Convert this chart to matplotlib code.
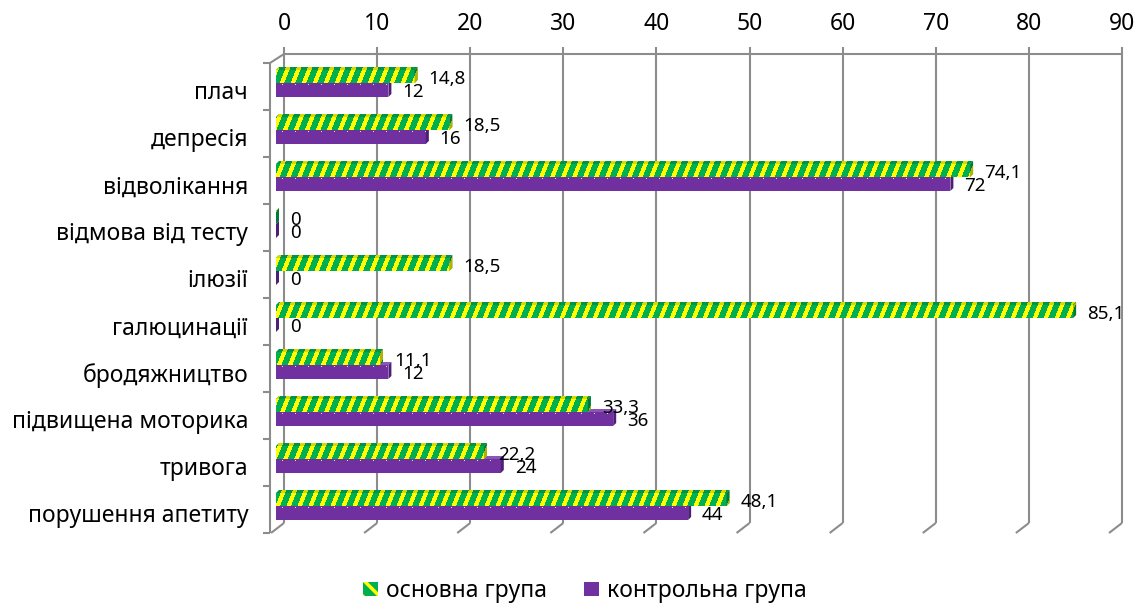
import numpy as np
import matplotlib
matplotlib.use("Agg")
import matplotlib.pyplot as plt
from matplotlib.patches import Polygon, PathPatch, Rectangle
from matplotlib.path import Path
from matplotlib.lines import Line2D
from matplotlib.transforms import ScaledTranslation

# ---- data -------------------------------------------------------------
categories = ["плач", "депресія", "відволікання", "відмова від тесту", "ілюзії",
              "галюцинації", "бродяжництво", "підвищена моторика", "тривога",
              "порушення апетиту"]
main_group = [14.8, 18.5, 74.1, 0, 18.5, 85.1, 11.1, 33.3, 22.2, 48.1]
control_group = [12, 16, 72, 0, 0, 0, 12, 36, 24, 44]
series_names = ["основна група", "контрольна група"]
x_ticks = [0, 10, 20, 30, 40, 50, 60, 70, 80, 90]

# ---- style ------------------------------------------------------------
FONT = ["Noto Sans", "DejaVu Sans"]
plt.rcParams["font.family"] = FONT
GREEN = "#00B050"
YELLOW = "#FFFF00"
PURPLE = "#7030A0"
GRID = "#8C8C8C"

W, H = 1140, 603
fig = plt.figure(figsize=(W / 100, H / 100), dpi=100)
fig.patch.set_facecolor("white")


def rect_px(x0, x1, ytop, ybot):
    return [x0 / W, 1 - ybot / H, (x1 - x0) / W, (ybot - ytop) / H]


def fig_line(xs, ys, **kw):
    fig.add_artist(Line2D([x / W for x in xs], [1 - y / H for y in ys],
                          transform=fig.transFigure, color=GRID, lw=1.5,
                          solid_capstyle="butt", **kw))


# ---- back wall: value grid and top axis ---------------------------------
BX0, BX1, BYT, BYB = 284, 1122, 54, 523
ax_b = fig.add_axes(rect_px(BX0, BX1, BYT, BYB))
ax_b.set_xlim(x_ticks[0], x_ticks[-1])
ax_b.set_ylim(0, 1)
for s in ax_b.spines.values():
    s.set_visible(False)
ax_b.set_yticks([])
ax_b.xaxis.tick_top()
ax_b.set_xticks(x_ticks)
ax_b.set_xticklabels([str(t) for t in x_ticks], fontsize=16.5)
ax_b.tick_params(axis="x", length=5, width=1.5, color=GRID, pad=8)
ax_b.vlines(x_ticks, 0, 1, color=GRID, lw=1.5, clip_on=False)
ax_b.hlines(1, x_ticks[0], x_ticks[-1], color=GRID, lw=1.5, clip_on=False)

# floor edges running towards the viewer
for t in x_ticks:
    xp = BX0 + (t - x_ticks[0]) / (x_ticks[-1] - x_ticks[0]) * (BX1 - BX0)
    fig_line([xp, xp - 13], [BYB, BYB + 10])

# ---- front plane with the bars -----------------------------------------
FX0, FX1, FYT, FYB = 276, 1119, 63, 533
ax_f = fig.add_axes(rect_px(FX0, FX1, FYT, FYB), zorder=2)
ax_f.patch.set_alpha(0)
for s in ax_f.spines.values():
    s.set_visible(False)

n = len(categories)
y = np.arange(n)
ppx = (FX1 - FX0) / 90.0          # pixels per value unit
ppy = (FYB - FYT) / n             # pixels per category band
dx = 3 / ppx                      # bar depth, horizontal
dy = 3 / ppy                      # bar depth, vertical

g_top, g_bot = -0.351, -0.0745
p_top, p_bot = -0.0745, 0.223

# control group (behind in drawing order)
pbars = ax_f.barh(y + (p_top + p_bot) / 2, control_group, height=p_bot - p_top,
                  color=PURPLE, edgecolor="none", zorder=2)
for yi, v in zip(y, control_group):
    t, b = yi + p_top, yi + p_bot
    ax_f.add_patch(Polygon([(0, t), (v, t), (v + dx, t - dy), (dx, t - dy)],
                           closed=True, fc="#8A55B5", ec="none", zorder=2))
    ax_f.add_patch(Polygon([(v, t), (v + dx, t - dy), (v + dx, b - dy), (v, b)],
                           closed=True, fc="#4F1F78", ec="none", zorder=2))

# main group
gbars = ax_f.barh(y + (g_top + g_bot) / 2, main_group, height=g_bot - g_top,
                  color=GREEN, edgecolor="none", zorder=3)
top_faces, side_faces = [], []
for yi, v in zip(y, main_group):
    t, b = yi + g_top, yi + g_bot
    tp = Polygon([(0, t), (v, t), (v + dx, t - dy), (dx, t - dy)],
                 closed=True, fc=GREEN, ec="none", zorder=3)
    sp = Polygon([(v, t), (v + dx, t - dy), (v + dx, b - dy), (v, b)],
                 closed=True, fc=GREEN, ec="none", zorder=3)
    ax_f.add_patch(tp)
    ax_f.add_patch(sp)
    top_faces.append(tp)
    side_faces.append(sp)

# diagonal yellow stripes over the green bars
rows, cols = FYB - FYT, FX1 - FX0
rr, cc = np.mgrid[0:rows, 0:cols]
stripe = ((cc + 0.4 * rr) % 11) < 4.5
img = np.zeros((rows, cols, 4))
img[stripe] = matplotlib.colors.to_rgba(YELLOW)
im = ax_f.imshow(img, extent=(0, 90, n - 0.5, -0.5), origin="upper",
                 aspect="auto", interpolation="nearest", zorder=3.5)
paths = [p.get_path().transformed(p.get_patch_transform()) for p in gbars.patches]
paths += [p.get_path() for p in top_faces + side_faces]
clip = PathPatch(Path.make_compound_path(*paths), transform=ax_f.transData)
im.set_clip_path(clip)

# shading of the top and end faces
for tp, sp in zip(top_faces, side_faces):
    ax_f.add_patch(Polygon(tp.get_xy(), closed=True, fc="black", alpha=0.15,
                           ec="none", zorder=4))
    ax_f.add_patch(Polygon(sp.get_xy(), closed=True, fc="black", alpha=0.3,
                           ec="none", zorder=4))

# sparse light dots on the purple bars
dots = np.zeros((rows, cols, 4))
dot_rows = (rr % int(round(ppy))) == int(round((0.5 + p_top) * ppy)) + 1
dot_cols = (cc % 13) == 6
dots[dot_rows & dot_cols] = matplotlib.colors.to_rgba("#E6DCF0")
imd = ax_f.imshow(dots, extent=(0, 90, n - 0.5, -0.5), origin="upper",
                  aspect="auto", interpolation="nearest", zorder=2.5)
ppaths = [p.get_path().transformed(p.get_patch_transform()) for p in pbars.patches]
imd.set_clip_path(PathPatch(Path.make_compound_path(*ppaths), transform=ax_f.transData))

ax_f.set_xlim(0, 90)
ax_f.set_ylim(n - 0.5, -0.5)
ax_f.set_xticks([])


def fmt(v):
    return f"{v:g}".replace(".", ",")


for yi, v in zip(y, main_group):
    ax_f.annotate(fmt(v), xy=(v, yi + (g_top + g_bot) / 2), xytext=(10, -1.5),
                  textcoords="offset points", ha="left", va="center",
                  fontsize=13.5, zorder=6)
for yi, v in zip(y, control_group):
    ax_f.annotate(fmt(v), xy=(v, yi + (p_top + p_bot) / 2), xytext=(10, -1.5),
                  textcoords="offset points", ha="left", va="center",
                  fontsize=13.5, zorder=6)

# category labels
ax_f.set_yticks(y)
ax_f.set_yticklabels(categories, fontsize=16.5)
ax_f.tick_params(axis="y", length=0, pad=20)
for lbl in ax_f.get_yticklabels():
    lbl.set_transform(lbl.get_transform() +
                      ScaledTranslation(0, -0.04, fig.dpi_scale_trans))

# left wall
LX = 270
fig_line([LX, LX], [FYT, FYB])
fig_line([LX, BX0], [FYT, BYT])
for k in range(n + 1):
    yy = FYT + k * ppy
    fig_line([LX - 7, LX], [yy, yy])

# ---- legend --------------------------------------------------------------
plt.rcParams["hatch.linewidth"] = 2.5
handles = [Rectangle((0, 0), 1, 1, fc=GREEN, ec=YELLOW, lw=0, hatch="\\\\"),
           Rectangle((0, 0), 1, 1, fc=PURPLE, ec="none", lw=0)]
fig.legend(handles, series_names, loc="center", bbox_to_anchor=(0.513, 0.02),
           ncol=2, frameon=False, fontsize=16.5, handlelength=0.65,
           handleheight=0.6, handletextpad=0.35, columnspacing=1.6)

fig.savefig("out.png", dpi=100, facecolor="white")
